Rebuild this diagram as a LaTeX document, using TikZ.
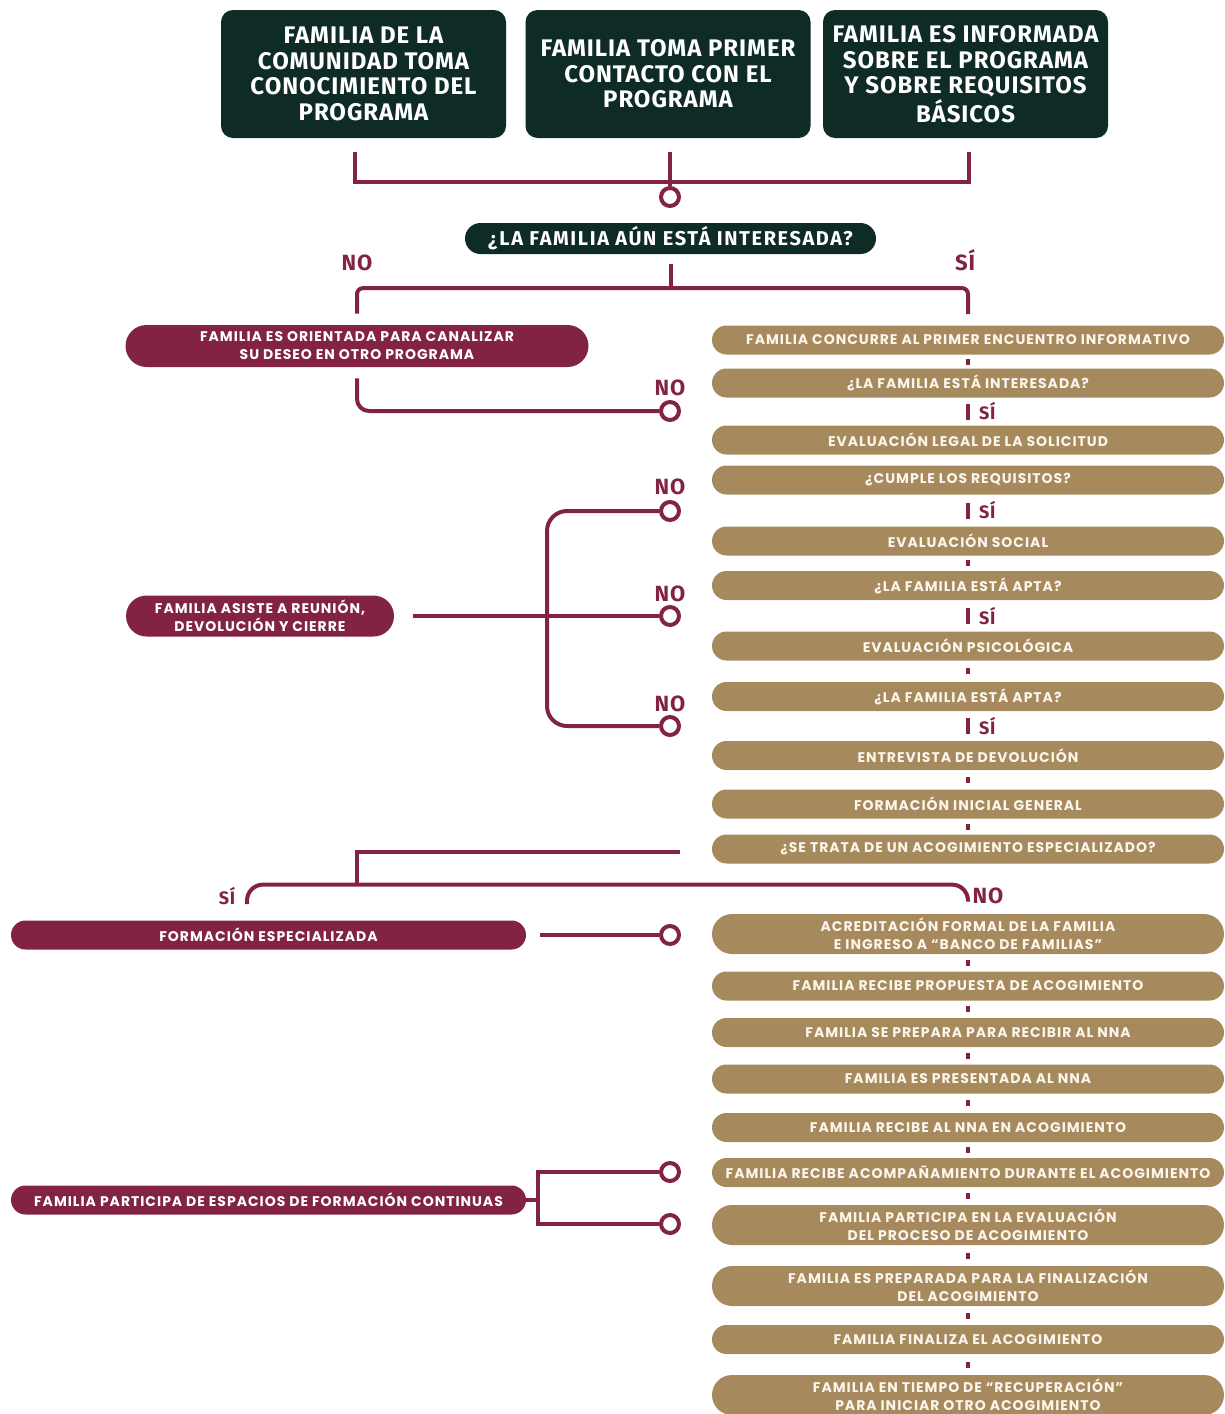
\documentclass[tikz,border=0pt]{standalone}
\usepackage{fontspec}
\newfontfamily\pop{Poppins}[LetterSpace=7]
\newfontfamily\fira{Fira Sans}[LetterSpace=4]
\newfontfamily\firaq{Fira Sans}[LetterSpace=8]
\usetikzlibrary{calc}
\definecolor{maroon}{HTML}{822343}
\definecolor{gold}{HTML}{A68A5E}
\definecolor{dkgreen}{HTML}{0E2B25}
\definecolor{cream}{HTML}{FBF5EC}
\begin{document}
\begin{tikzpicture}[x=0.5pt,y=-0.5pt,
  topbox/.style={fill=dkgreen, rounded corners=6pt, minimum width=142.5pt, minimum height=64pt, text=white, font=\fira\bfseries\fontsize{12}{12.8}\selectfont, align=center, inner sep=0pt},
  qpill/.style={fill=dkgreen, rounded corners=7.75pt, minimum width=205.5pt, minimum height=15.5pt, text=white, font=\firaq\bfseries\fontsize{10}{10}\selectfont, inner sep=0pt},
  gold/.style={fill=gold, rounded corners=7.25pt, minimum width=256pt, minimum height=14.5pt, text=cream, font=\pop\bfseries\fontsize{7}{9}\selectfont, align=center, inner sep=0pt},
  gold2/.style={gold, minimum height=20pt, rounded corners=10pt},
  mpill/.style={fill=maroon, text=white, font=\pop\bfseries\fontsize{7}{9}\selectfont, align=center, inner sep=0pt},
  conn/.style={draw=maroon, line width=2pt},
  ring/.style={circle, draw=maroon, fill=white, line width=2pt, minimum size=9pt, inner sep=0pt},
  lab/.style={text=maroon, font=\fira\bfseries\fontsize{11}{11}\selectfont, inner sep=0pt, anchor=base},
  slab/.style={text=maroon, font=\fira\bfseries\fontsize{9}{9}\selectfont, inner sep=0pt},
  tick/.style={draw=maroon, line width=2pt}
]
\useasboundingbox (0,0) rectangle (1225,1414);

% top boxes
\node[topbox] (t1) at (363.5,74) {FAMILIA DE LA\\COMUNIDAD TOMA\\CONOCIMIENTO DEL\\PROGRAMA};
\node[topbox] (t2) at (668,74) {FAMILIA TOMA PRIMER\\CONTACTO CON EL\\PROGRAMA};
\node[topbox] (t3) at (965.5,74) {FAMILIA ES INFORMADA\\SOBRE EL PROGRAMA\\Y SOBRE REQUISITOS\\BÁSICOS};

\node[ring] (c0) at (670,197) {};
\node[qpill] (q) at (670.5,238.5) {¿LA FAMILIA AÚN ESTÁ INTERESADA?};
\node[lab] (no0) at (357,270) {NO};
\node[lab] (si0) at (965,270) {SÍ};

% right column
\node[gold] (p1) at (968,340) {FAMILIA CONCURRE AL PRIMER ENCUENTRO INFORMATIVO};
\node[gold] (p2) at (968,383) {¿LA FAMILIA ESTÁ INTERESADA?};
\node[gold] (p3) at (968,440) {EVALUACIÓN LEGAL DE LA SOLICITUD};
\node[gold] (p4) at (968,480) {¿CUMPLE LOS REQUISITOS?};
\node[gold] (p5) at (968,541) {EVALUACIÓN SOCIAL};
\node[gold] (p6) at (968,585.5) {¿LA FAMILIA ESTÁ APTA?};
\node[gold] (p7) at (968,646) {EVALUACIÓN PSICOLÓGICA};
\node[gold] (p8) at (968,696.5) {¿LA FAMILIA ESTÁ APTA?};
\node[gold] (p9) at (968,755.5) {ENTREVISTA DE DEVOLUCIÓN};
\node[gold] (p10) at (968,804) {FORMACIÓN INICIAL GENERAL};
\node[gold] (p11) at (968,849) {¿SE TRATA DE UN ACOGIMIENTO ESPECIALIZADO?};
\node[gold2] (p12) at (968,934) {ACREDITACIÓN FORMAL DE LA FAMILIA\\E INGRESO A “BANCO DE FAMILIAS”};
\node[gold] (p13) at (968,986) {FAMILIA RECIBE PROPUESTA DE ACOGIMIENTO};
\node[gold] (p14) at (968,1032.5) {FAMILIA SE PREPARA PARA RECIBIR AL NNA};
\node[gold] (p15) at (968,1079) {FAMILIA ES PRESENTADA AL NNA};
\node[gold] (p16) at (968,1127.5) {FAMILIA RECIBE AL NNA EN ACOGIMIENTO};
\node[gold] (p17) at (968,1172.5) {FAMILIA RECIBE ACOMPAÑAMIENTO DURANTE EL ACOGIMIENTO};
\node[gold2] (p18) at (968,1225) {FAMILIA PARTICIPA EN LA EVALUACIÓN\\DEL PROCESO DE ACOGIMIENTO};
\node[gold2] (p19) at (968,1286) {FAMILIA ES PREPARADA PARA LA FINALIZACIÓN\\DEL ACOGIMIENTO};
\node[gold] (p20) at (968,1339.5) {FAMILIA FINALIZA EL ACOGIMIENTO};
\node[gold2] (p21) at (968,1395) {FAMILIA EN TIEMPO DE “RECUPERACIÓN”\\PARA INICIAR OTRO ACOGIMIENTO};

% left pills
\node[mpill, minimum width=231.5pt, minimum height=21pt, rounded corners=10.5pt] (l1) at (357,346) {FAMILIA ES ORIENTADA PARA CANALIZAR\\SU DESEO EN OTRO PROGRAMA};
\node[mpill, minimum width=134pt, minimum height=20.5pt, rounded corners=10.25pt] (l2) at (260,616) {FAMILIA ASISTE A REUNIÓN,\\DEVOLUCIÓN Y CIERRE};
\node[mpill, minimum width=257.5pt, minimum height=14.5pt, rounded corners=7.25pt] (l3) at (268.5,935) {FORMACIÓN ESPECIALIZADA};
\node[mpill, minimum width=257.5pt, minimum height=14.5pt, rounded corners=7.25pt] (l4) at (268.5,1200) {FAMILIA PARTICIPA DE ESPACIOS DE FORMACIÓN CONTINUAS};

% rings
\node[ring] (c1) at (670,411) {};
\node[ring] (c2) at (670,511) {};
\node[ring] (c3) at (670,616) {};
\node[ring] (c4) at (670,726) {};
\node[ring] (c5) at (670,935) {};
\node[ring] (c6) at (670,1172) {};
\node[ring] (c7) at (670,1224) {};
\node[lab] (n1) at (670,395) {NO};
\node[lab] (n2) at (670,494) {NO};
\node[lab] (n3) at (670,601) {NO};
\node[lab] (n4) at (670,711) {NO};

% top connectors
\draw[conn] ($(t1.south)+(-8.5,14)$) |- ($(t3.south)+(3.5,44)$) -- ($(t3.south)+(3.5,14)$);
\draw[conn] ($(t2.south)+(2,14)$) -- (c0.north);
\draw[conn] ($(q.south)+(0,10)$) -- ++(0,24);
\draw[conn,rounded corners=3pt] ($(l1.north)+(0,-11)$) |- ($(p1.north)+(0,-37)$) -- ($(p1.north)+(0,-11)$);
\draw[conn,rounded corners=6pt] ($(l1.south)+(0,11)$) |- (c1.west);

% bracket for l2
\coordinate (b1) at (547,616);
\draw[conn,rounded corners=10pt] (c2.west) -| (b1) |- (c4.west);
\draw[conn] ($(l2.east)+(19,0)$) -- (c3.west);

% ticks
\foreach \a/\b in {p1/p2,p5/p6,p7/p8,p9/p10,p10/p11,p12/p13,p13/p14,p14/p15,p15/p16,p16/p17,p17/p18,p18/p19,p19/p20,p20/p21}{
  \draw[tick] ($(\a.south)!0.5!(\b.north)+(0,-3)$) -- ++(0,6);
}
\foreach \a/\b in {p2/p3,p4/p5,p6/p7,p8/p9}{
  \draw[tick] ($(\a.south)!0.5!(\b.north)+(0,-8)$) -- ++(0,16) node[slab,anchor=west,midway,xshift=4.5pt]{SÍ};
}

% specialised branch
\coordinate (jB) at (357,885);
\coordinate (sB) at (247,904);
\draw[conn] ($(p11.west)+(-32,3)$) -| (jB);
\draw[conn,rounded corners=8pt] (sB) |- ($(p12.north)+(0,-29)$) -- ($(p12.north)+(0,-12)$);
\node[slab] (si1) at (227,896) {SÍ};
\node[lab] (no1) at (988,903) {NO};
\draw[conn] ($(l3.east)+(14,0)$) -- (c5.west);

% continuous training
\coordinate (bk) at (538,1200);
\draw[conn] (l4.east) -- (bk);
\draw[conn] (c6.west) -| (bk) |- (c7.west);
\end{tikzpicture}
\end{document}
